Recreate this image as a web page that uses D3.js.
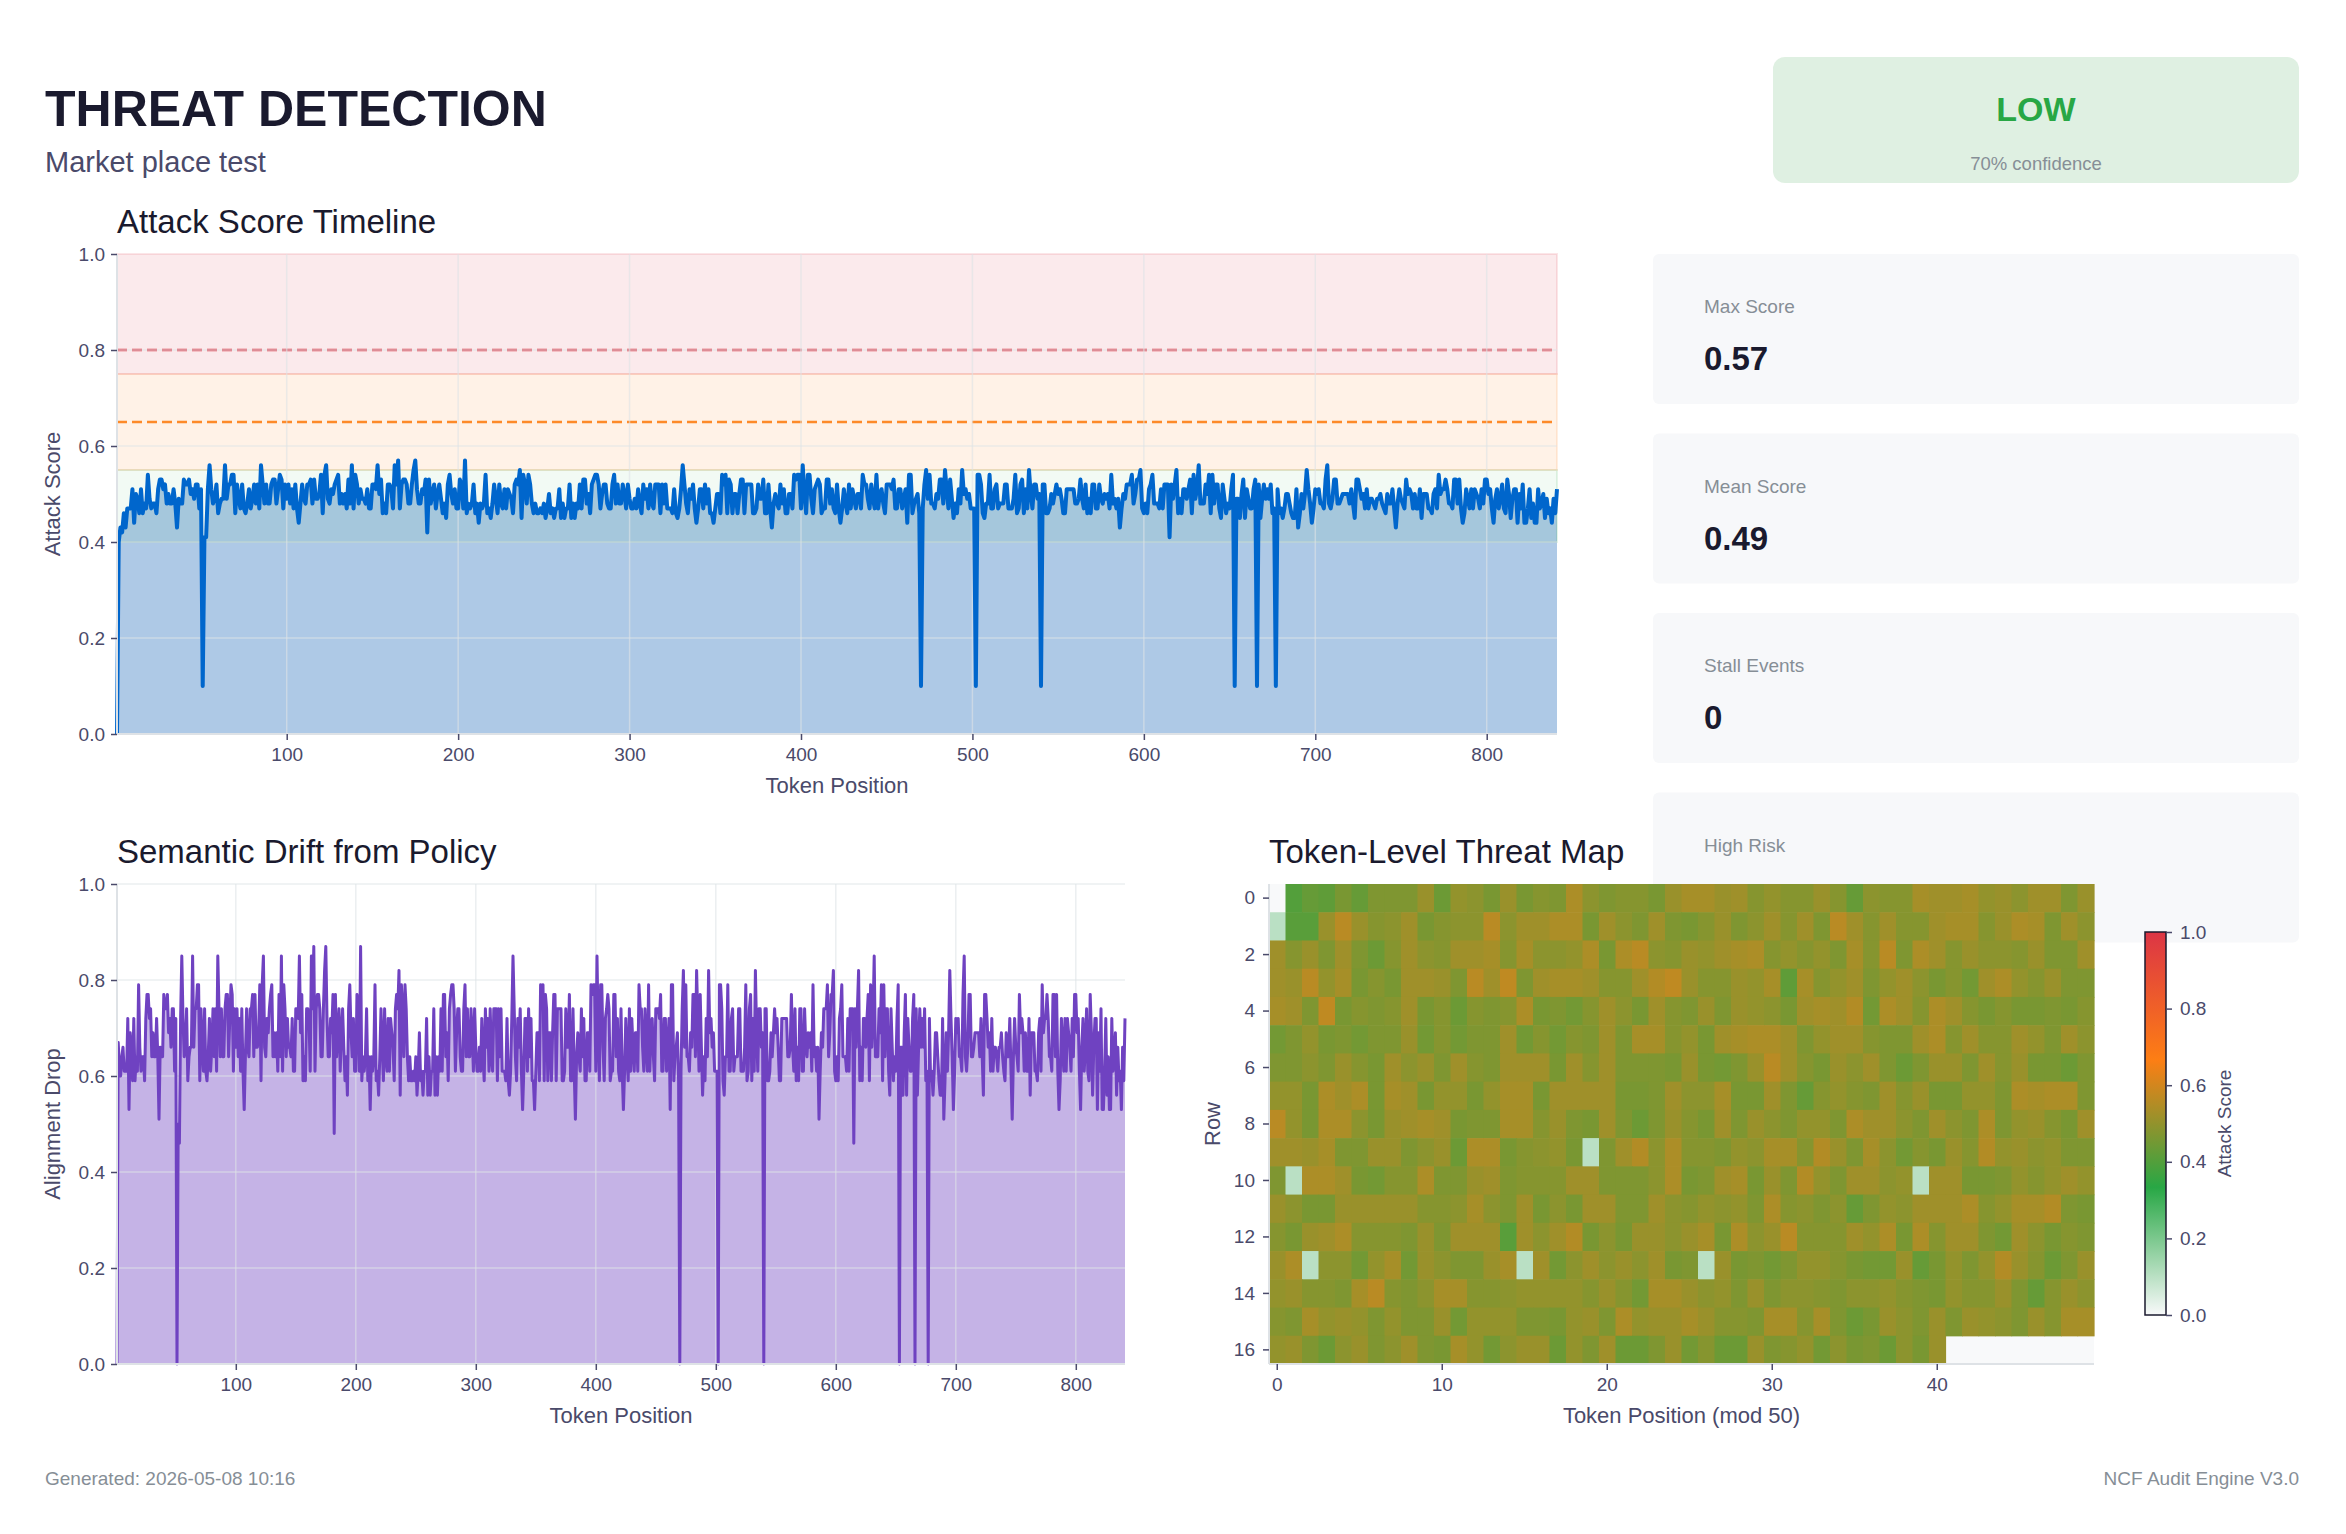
<!DOCTYPE html>
<html>
<head>
<meta charset="utf-8">
<script src="https://cdn.jsdelivr.net/npm/d3@7"></script>
<style>
  body { margin: 0; background: #fff; }
</style>
</head>
<body>
<div id="chart"></div>
<script>
// attack score per token (heatmap rows of 50 tokens)
var attackScores = [
  0.00,0.40,0.43,0.42,0.46,0.43,0.47,0.47,0.47,0.51,0.44,0.50,0.49,0.46,0.51,0.46,0.48,0.47,0.54,0.49,0.47,0.48,0.48,0.46,0.51,
  0.53,0.53,0.51,0.52,0.48,0.50,0.48,0.48,0.51,0.48,0.43,0.49,0.48,0.48,0.53,0.52,0.52,0.53,0.50,0.51,0.49,0.52,0.52,0.47,0.51,
  0.10,0.41,0.41,0.51,0.56,0.51,0.48,0.49,0.52,0.46,0.48,0.49,0.49,0.56,0.49,0.52,0.52,0.54,0.54,0.46,0.52,0.49,0.47,0.52,0.47,
  0.46,0.48,0.51,0.47,0.49,0.52,0.48,0.52,0.47,0.56,0.52,0.48,0.52,0.48,0.48,0.52,0.53,0.53,0.48,0.51,0.54,0.53,0.47,0.52,0.49,
  0.52,0.48,0.51,0.47,0.52,0.47,0.44,0.48,0.52,0.49,0.48,0.52,0.52,0.53,0.48,0.53,0.49,0.49,0.50,0.54,0.46,0.54,0.56,0.49,0.48,
  0.51,0.50,0.52,0.53,0.54,0.48,0.50,0.48,0.50,0.47,0.53,0.48,0.56,0.47,0.54,0.52,0.48,0.51,0.49,0.49,0.48,0.51,0.47,0.47,0.52,
  0.52,0.51,0.56,0.50,0.53,0.46,0.48,0.46,0.52,0.52,0.51,0.47,0.56,0.52,0.57,0.47,0.52,0.53,0.53,0.52,0.48,0.48,0.52,0.55,0.57,
  0.51,0.48,0.48,0.51,0.50,0.53,0.42,0.53,0.48,0.50,0.52,0.47,0.50,0.52,0.49,0.46,0.48,0.45,0.52,0.54,0.50,0.48,0.51,0.47,0.47,
  0.53,0.52,0.47,0.57,0.46,0.48,0.47,0.48,0.52,0.46,0.48,0.44,0.48,0.47,0.48,0.54,0.46,0.47,0.45,0.48,0.52,0.49,0.46,0.52,0.48,
  0.47,0.51,0.47,0.51,0.50,0.49,0.46,0.52,0.53,0.52,0.55,0.45,0.54,0.52,0.48,0.54,0.52,0.48,0.46,0.48,0.46,0.46,0.47,0.46,0.48,
  0.45,0.47,0.50,0.46,0.47,0.45,0.47,0.47,0.51,0.45,0.48,0.45,0.47,0.47,0.52,0.45,0.48,0.45,0.48,0.47,0.52,0.47,0.53,0.53,0.48,
  0.50,0.46,0.52,0.53,0.54,0.54,0.52,0.47,0.50,0.52,0.52,0.48,0.47,0.47,0.52,0.54,0.48,0.52,0.48,0.48,0.52,0.50,0.47,0.52,0.49,
  0.47,0.47,0.49,0.47,0.51,0.48,0.46,0.52,0.49,0.51,0.47,0.52,0.48,0.47,0.52,0.52,0.52,0.46,0.52,0.48,0.52,0.47,0.47,0.47,0.46,
  0.51,0.46,0.45,0.47,0.51,0.56,0.52,0.48,0.46,0.51,0.49,0.52,0.47,0.44,0.47,0.51,0.51,0.47,0.52,0.48,0.51,0.46,0.46,0.44,0.47,
  0.50,0.50,0.46,0.54,0.52,0.54,0.46,0.53,0.52,0.46,0.50,0.50,0.46,0.50,0.53,0.53,0.46,0.52,0.52,0.52,0.52,0.46,0.46,0.47,0.52,
  0.49,0.49,0.53,0.46,0.46,0.52,0.47,0.43,0.48,0.50,0.48,0.47,0.52,0.48,0.51,0.46,0.46,0.50,0.50,0.47,0.54,0.53,0.54,0.54,0.47,
  0.56,0.50,0.46,0.54,0.54,0.49,0.46,0.51,0.52,0.53,0.52,0.46,0.47,0.47,0.53,0.53,0.48,0.51,0.47,0.46,0.52,0.47,0.44,0.47,0.51,
  0.48,0.46,0.52,0.47,0.51,0.49,0.47,0.50,0.50,0.47,0.54,0.52,0.52,0.49,0.47,0.52,0.49,0.47,0.54,0.47,0.50,0.51,0.48,0.46,0.52,
  0.52,0.52,0.51,0.53,0.47,0.47,0.51,0.51,0.47,0.49,0.51,0.44,0.54,0.54,0.46,0.48,0.49,0.50,0.46,0.10,0.47,0.52,0.55,0.49,0.54,
  0.48,0.48,0.47,0.50,0.49,0.53,0.53,0.48,0.55,0.51,0.47,0.53,0.49,0.45,0.48,0.46,0.51,0.48,0.55,0.50,0.51,0.49,0.50,0.47,0.47,
  0.47,0.10,0.54,0.54,0.52,0.46,0.45,0.48,0.48,0.54,0.47,0.47,0.51,0.52,0.47,0.48,0.48,0.48,0.52,0.52,0.47,0.47,0.47,0.49,0.54,
  0.46,0.47,0.52,0.53,0.46,0.51,0.47,0.55,0.50,0.47,0.52,0.52,0.49,0.50,0.10,0.52,0.52,0.46,0.46,0.47,0.50,0.48,0.50,0.52,0.50,
  0.51,0.49,0.46,0.46,0.51,0.51,0.51,0.51,0.51,0.48,0.48,0.49,0.53,0.49,0.47,0.52,0.46,0.49,0.46,0.52,0.52,0.47,0.47,0.52,0.49,
  0.48,0.50,0.49,0.50,0.47,0.54,0.48,0.49,0.47,0.49,0.43,0.47,0.50,0.49,0.52,0.52,0.52,0.54,0.48,0.50,0.53,0.53,0.55,0.47,0.46,
  0.48,0.46,0.51,0.52,0.54,0.48,0.48,0.48,0.47,0.51,0.47,0.52,0.52,0.52,0.41,0.52,0.49,0.52,0.55,0.46,0.49,0.46,0.51,0.51,0.49,
  0.51,0.53,0.46,0.54,0.49,0.51,0.56,0.48,0.48,0.48,0.52,0.50,0.54,0.46,0.54,0.48,0.52,0.52,0.47,0.45,0.52,0.49,0.46,0.48,0.47,
  0.51,0.54,0.10,0.49,0.49,0.45,0.50,0.53,0.45,0.51,0.49,0.47,0.47,0.51,0.53,0.10,0.52,0.45,0.49,0.52,0.49,0.51,0.49,0.52,0.46,
  0.47,0.10,0.51,0.46,0.47,0.45,0.47,0.50,0.50,0.48,0.46,0.45,0.45,0.51,0.43,0.46,0.50,0.47,0.50,0.55,0.51,0.48,0.44,0.47,0.51,
  0.50,0.51,0.48,0.48,0.47,0.53,0.56,0.48,0.47,0.49,0.53,0.53,0.48,0.48,0.49,0.50,0.50,0.50,0.50,0.48,0.51,0.48,0.45,0.53,0.53,
  0.51,0.49,0.50,0.47,0.51,0.47,0.49,0.49,0.48,0.47,0.49,0.49,0.50,0.48,0.47,0.46,0.50,0.48,0.48,0.51,0.47,0.43,0.48,0.51,0.49,
  0.48,0.47,0.53,0.50,0.51,0.50,0.47,0.50,0.47,0.47,0.51,0.45,0.50,0.50,0.50,0.47,0.47,0.46,0.50,0.51,0.47,0.54,0.50,0.51,0.51,
  0.53,0.51,0.48,0.48,0.47,0.53,0.53,0.48,0.53,0.47,0.44,0.46,0.51,0.49,0.47,0.51,0.47,0.51,0.50,0.49,0.47,0.51,0.48,0.53,0.53,
  0.50,0.51,0.47,0.44,0.49,0.51,0.47,0.49,0.52,0.47,0.46,0.53,0.50,0.45,0.49,0.51,0.51,0.44,0.50,0.47,0.52,0.44,0.44,0.47,0.51,
  0.45,0.48,0.44,0.44,0.51,0.47,0.48,0.50,0.45,0.49,0.46,0.47,0.44,0.49,0.46,0.51
];

// alignment drop per token
var driftScores = [
  0,0.67,0.62,0.60,0.64,0.66,0.61,0.61,0.61,0.72,0.53,0.69,0.66,0.59,0.72,0.59,0.64,0.61,0.79,0.66,0.61,0.64,0.64,0.59,0.72,
  0.77,0.77,0.72,0.74,0.64,0.69,0.64,0.64,0.72,0.64,0.51,0.66,0.64,0.64,0.77,0.74,0.74,0.77,0.69,0.72,0.66,0.74,0.74,0.61,0.72,
  0,0.50,0.46,0.72,0.85,0.72,0.64,0.66,0.74,0.59,0.64,0.66,0.66,0.85,0.66,0.74,0.74,0.79,0.79,0.59,0.74,0.66,0.61,0.74,0.61,
  0.59,0.64,0.72,0.61,0.66,0.74,0.64,0.74,0.61,0.85,0.74,0.64,0.74,0.64,0.64,0.74,0.77,0.77,0.64,0.72,0.79,0.77,0.61,0.74,0.66,
  0.74,0.64,0.72,0.61,0.74,0.61,0.53,0.64,0.74,0.66,0.64,0.74,0.74,0.77,0.64,0.77,0.66,0.66,0.69,0.79,0.59,0.79,0.85,0.66,0.64,
  0.72,0.69,0.74,0.77,0.79,0.64,0.69,0.64,0.69,0.61,0.77,0.64,0.85,0.61,0.79,0.74,0.64,0.72,0.66,0.66,0.64,0.72,0.61,0.61,0.74,
  0.74,0.72,0.85,0.69,0.77,0.59,0.64,0.59,0.74,0.74,0.72,0.61,0.85,0.74,0.87,0.61,0.74,0.77,0.77,0.74,0.64,0.64,0.74,0.82,0.87,
  0.72,0.64,0.64,0.72,0.69,0.77,0.48,0.77,0.64,0.69,0.74,0.61,0.69,0.74,0.66,0.59,0.64,0.56,0.74,0.79,0.69,0.64,0.72,0.61,0.61,
  0.77,0.74,0.61,0.87,0.59,0.64,0.61,0.64,0.74,0.59,0.64,0.53,0.64,0.61,0.64,0.79,0.59,0.61,0.56,0.64,0.74,0.66,0.59,0.74,0.64,
  0.61,0.72,0.61,0.72,0.69,0.66,0.59,0.74,0.77,0.74,0.82,0.56,0.79,0.74,0.64,0.79,0.74,0.64,0.59,0.64,0.59,0.59,0.61,0.59,0.64,
  0.56,0.61,0.69,0.59,0.61,0.56,0.61,0.61,0.72,0.56,0.64,0.56,0.61,0.61,0.74,0.56,0.64,0.56,0.64,0.61,0.74,0.61,0.77,0.77,0.64,
  0.69,0.59,0.74,0.77,0.79,0.79,0.74,0.61,0.69,0.74,0.74,0.64,0.61,0.61,0.74,0.79,0.64,0.74,0.64,0.64,0.74,0.69,0.61,0.74,0.66,
  0.61,0.61,0.66,0.61,0.72,0.64,0.59,0.74,0.66,0.72,0.61,0.74,0.64,0.61,0.74,0.74,0.74,0.59,0.74,0.64,0.74,0.61,0.61,0.61,0.59,
  0.72,0.59,0.56,0.61,0.72,0.85,0.74,0.64,0.59,0.72,0.66,0.74,0.61,0.53,0.61,0.72,0.72,0.61,0.74,0.64,0.72,0.59,0.59,0.53,0.61,
  0.69,0.69,0.59,0.79,0.74,0.79,0.59,0.77,0.74,0.59,0.69,0.69,0.59,0.69,0.77,0.77,0.59,0.74,0.74,0.74,0.74,0.59,0.59,0.61,0.74,
  0.66,0.66,0.77,0.59,0.59,0.74,0.61,0.51,0.64,0.69,0.64,0.61,0.74,0.64,0.72,0.59,0.59,0.69,0.69,0.61,0.79,0.77,0.79,0.79,0.61,
  0.85,0.69,0.59,0.79,0.79,0.66,0.59,0.72,0.74,0.77,0.74,0.59,0.61,0.61,0.77,0.77,0.64,0.72,0.61,0.59,0.74,0.61,0.53,0.61,0.72,
  0.64,0.59,0.74,0.61,0.72,0.66,0.61,0.69,0.69,0.61,0.79,0.74,0.74,0.66,0.61,0.74,0.66,0.61,0.79,0.61,0.69,0.72,0.64,0.59,0.74,
  0.74,0.74,0.72,0.77,0.61,0.61,0.72,0.72,0.61,0.66,0.72,0.53,0.79,0.79,0.59,0.64,0.66,0.69,0.59,0,0.61,0.74,0.82,0.66,0.79,
  0.64,0.64,0.61,0.69,0.66,0.77,0.77,0.64,0.82,0.72,0.61,0.77,0.66,0.56,0.64,0.59,0.72,0.64,0.82,0.69,0.72,0.66,0.69,0.61,0.61,
  0.61,0,0.79,0.79,0.74,0.59,0.56,0.64,0.64,0.79,0.61,0.61,0.72,0.74,0.61,0.64,0.64,0.64,0.74,0.74,0.61,0.61,0.61,0.66,0.79,
  0.59,0.61,0.74,0.77,0.59,0.72,0.61,0.82,0.69,0.61,0.74,0.74,0.66,0.69,0,0.74,0.74,0.59,0.59,0.61,0.69,0.64,0.69,0.74,0.69,
  0.72,0.66,0.59,0.59,0.72,0.72,0.72,0.72,0.72,0.64,0.64,0.66,0.77,0.66,0.61,0.74,0.59,0.66,0.59,0.74,0.74,0.61,0.61,0.74,0.66,
  0.64,0.69,0.66,0.69,0.61,0.79,0.64,0.66,0.61,0.66,0.51,0.61,0.69,0.66,0.74,0.74,0.74,0.79,0.64,0.69,0.77,0.77,0.82,0.61,0.59,
  0.64,0.59,0.72,0.74,0.79,0.64,0.64,0.64,0.61,0.72,0.61,0.74,0.74,0.74,0.46,0.74,0.66,0.74,0.82,0.59,0.66,0.59,0.72,0.72,0.66,
  0.72,0.77,0.59,0.79,0.66,0.72,0.85,0.64,0.64,0.64,0.74,0.69,0.79,0.59,0.79,0.64,0.74,0.74,0.61,0.56,0.74,0.66,0.59,0.64,0.61,
  0.72,0.79,0,0.66,0.66,0.56,0.69,0.77,0.56,0.72,0.66,0.61,0.61,0.72,0.77,0,0.74,0.56,0.66,0.74,0.66,0.72,0.66,0.74,0.59,
  0.61,0,0.72,0.59,0.61,0.56,0.61,0.69,0.69,0.64,0.59,0.56,0.56,0.72,0.51,0.59,0.69,0.61,0.69,0.82,0.72,0.64,0.53,0.61,0.72,
  0.69,0.72,0.64,0.64,0.61,0.77,0.85,0.64,0.61,0.66,0.77,0.77,0.64,0.64,0.66,0.69,0.69,0.69,0.69,0.64,0.72,0.64,0.56,0.77,0.77,
  0.72,0.66,0.69,0.61,0.72,0.61,0.66,0.66,0.64,0.61,0.66,0.66,0.69,0.64,0.61,0.59,0.69,0.64,0.64,0.72,0.61,0.51,0.64,0.72,0.66,
  0.64,0.61,0.77,0.69,0.72,0.69,0.61,0.69,0.61,0.61,0.72,0.56,0.69,0.69,0.69,0.61,0.61,0.59,0.69,0.72,0.61,0.79,0.69,0.72,0.72,
  0.77,0.72,0.64,0.64,0.61,0.77,0.77,0.64,0.77,0.61,0.53,0.59,0.72,0.66,0.61,0.72,0.61,0.72,0.69,0.66,0.61,0.72,0.64,0.77,0.77,
  0.69,0.72,0.61,0.53,0.66,0.72,0.61,0.66,0.74,0.61,0.59,0.77,0.69,0.56,0.66,0.72,0.72,0.53,0.69,0.61,0.74,0.53,0.53,0.61,0.72,
  0.56,0.64,0.53,0.53,0.72,0.61,0.64,0.69,0.56,0.66,0.59,0.61,0.53,0.66,0.59,0.72
];

var zoneBounds = [0.40, 0.55, 0.75, 1.00];
var zoneColors = ['#28a745', '#fd7e14', '#dc3545'];
var zoneAlpha = [0.06, 0.1, 0.1];
var thresholdValues = [0.65, 0.80];
var thresholdColors = ['#fd7e14', '#dc3545'];

var scoreTicks = [0, 0.2, 0.4, 0.6, 0.8, 1.0];
var tokenTicks = [100, 200, 300, 400, 500, 600, 700, 800];
var rowTicks = [0, 2, 4, 6, 8, 10, 12, 14, 16];
var colTicks = [0, 10, 20, 30, 40];

var metricLabels = ['Max Score', 'Mean Score', 'Stall Events', 'High Risk'];
var metricValues = ['0.57', '0.49', '0', '0'];

var riskLabel = 'LOW';
var riskConfidence = '70% confidence';

var cmapStops = [0, 1/3, 2/3, 1];
var cmapColors = ['#f8f9fa', '#28a745', '#fd7e14', '#dc3545'];

var FONT = '"Liberation Sans", Arial, Helvetica, sans-serif';
var W = 2346, H = 1534;
var INK = '#1a1a2e', SUB = '#4a4a6a', MUTED = '#868e96', SPINE = '#dee2e6';

var svg = d3.select('#chart').append('svg')
  .attr('width', W).attr('height', H)
  .style('font-family', FONT);
svg.append('rect').attr('width', W).attr('height', H).attr('fill', '#fff');

var styleAxis = function(g){
  g.select('.domain').remove();
  g.attr('font-family', FONT).attr('font-size', 19);
  g.selectAll('.tick line').attr('stroke', SUB).attr('stroke-width', 1.5);
  g.selectAll('.tick text').attr('fill', SUB);
};

var addText = function(x, y, str, size, color, weight, anchor){
  return svg.append('text').attr('x', x).attr('y', y).text(str)
    .attr('font-size', size).attr('fill', color)
    .attr('font-weight', weight || 'normal')
    .attr('text-anchor', anchor || 'start');
};

var addRotLabel = function(x, y, str, size){
  svg.append('text').attr('transform', 'translate(' + x + ',' + y + ') rotate(-90)')
    .attr('text-anchor', 'middle').attr('dy', '0.35em')
    .attr('font-size', size).attr('fill', SUB).text(str);
};

// header
addText(45, 126, 'THREAT DETECTION', 50, INK, 'bold');
addText(45, 172, 'Market place test', 29, SUB);

svg.append('rect').attr('x', 1773).attr('y', 57).attr('width', 526).attr('height', 126)
  .attr('rx', 12).attr('fill', '#dff0e2');
addText(2036, 121, riskLabel, 34, '#28a745', 'bold', 'middle');
addText(2036, 170, riskConfidence, 18.5, MUTED, 'normal', 'middle');

// metric cards
metricLabels.forEach(function(lbl, k){
  var top = 254 + k * 179.5;
  svg.append('rect').attr('x', 1653).attr('y', top).attr('width', 646).attr('height', 150)
    .attr('rx', 6).attr('fill', '#f7f8fa');
  addText(1704, top + 59, lbl, 19, MUTED);
  addText(1704, top + 116, metricValues[k], 33, INK, 'bold');
});

// ---------- attack score timeline ----------
var tl = {left: 117, right: 1557, top: 254, bottom: 734};
var xT = d3.scaleLinear().domain([1, attackScores.length]).range([tl.left, tl.right]);
var yT = d3.scaleLinear().domain([0, 1]).range([tl.bottom, tl.top]);
var gT = svg.append('g');

var areaT = d3.area()
  .x(function(d, i){ return xT(i + 1); })
  .y0(yT(0))
  .y1(function(d){ return yT(d); });
gT.append('path').datum(attackScores).attr('d', areaT)
  .attr('fill', '#0a5cb4').attr('fill-opacity', 0.33);

zoneColors.forEach(function(c, z){
  gT.append('rect')
    .attr('x', tl.left).attr('width', tl.right - tl.left)
    .attr('y', yT(zoneBounds[z + 1])).attr('height', yT(zoneBounds[z]) - yT(zoneBounds[z + 1]))
    .attr('fill', c).attr('fill-opacity', zoneAlpha[z])
    .attr('stroke', c).attr('stroke-opacity', 0.12).attr('stroke-width', 2);
});

thresholdValues.forEach(function(v, k){
  gT.append('line').attr('x1', tl.left).attr('x2', tl.right)
    .attr('y1', yT(v)).attr('y2', yT(v))
    .attr('stroke', thresholdColors[k]).attr('stroke-opacity', 0.9)
    .attr('stroke-width', 2.5).attr('stroke-dasharray', '10,5');
});

var gridT = gT.append('g').attr('stroke', SPINE).attr('stroke-opacity', 0.6).attr('stroke-width', 1.5);
tokenTicks.forEach(function(t){
  gridT.append('line').attr('x1', xT(t)).attr('x2', xT(t)).attr('y1', tl.top).attr('y2', tl.bottom);
});
scoreTicks.slice(1, -1).forEach(function(t){
  gridT.append('line').attr('x1', tl.left).attr('x2', tl.right).attr('y1', yT(t)).attr('y2', yT(t));
});

var lineT = d3.line()
  .x(function(d, i){ return xT(i + 1); })
  .y(function(d){ return yT(d); });
gT.append('path').datum(attackScores).attr('d', lineT)
  .attr('fill', 'none').attr('stroke', '#0066cc').attr('stroke-width', 4)
  .attr('stroke-linejoin', 'round');

gT.append('line').attr('x1', tl.left).attr('x2', tl.right).attr('y1', tl.bottom).attr('y2', tl.bottom)
  .attr('stroke', SPINE).attr('stroke-width', 2);
gT.append('line').attr('x1', tl.left).attr('x2', tl.left).attr('y1', tl.top).attr('y2', tl.bottom)
  .attr('stroke', SPINE).attr('stroke-width', 2);

gT.append('g').attr('transform', 'translate(' + tl.left + ',0)')
  .call(d3.axisLeft(yT).tickValues(scoreTicks).tickFormat(d3.format('.1f')).tickSize(6).tickPadding(6).tickSizeOuter(0))
  .call(styleAxis);
gT.append('g').attr('transform', 'translate(0,' + tl.bottom + ')')
  .call(d3.axisBottom(xT).tickValues(tokenTicks).tickSize(6).tickPadding(8).tickSizeOuter(0))
  .call(styleAxis);

addText(tl.left, 233, 'Attack Score Timeline', 33, INK);
addText((tl.left + tl.right) / 2, 793, 'Token Position', 22, SUB, 'normal', 'middle');
addRotLabel(52, (tl.top + tl.bottom) / 2, 'Attack Score', 22);

// ---------- semantic drift ----------
var dr = {left: 117, right: 1125, top: 884, bottom: 1364};
var xD = d3.scaleLinear().domain([1, driftScores.length]).range([dr.left, dr.right]);
var yD = d3.scaleLinear().domain([0, 1]).range([dr.bottom, dr.top]);
var gD = svg.append('g');

var areaD = d3.area()
  .x(function(d, i){ return xD(i + 1); })
  .y0(yD(0))
  .y1(function(d){ return yD(d); });
gD.append('path').datum(driftScores).attr('d', areaD)
  .attr('fill', '#6f42c1').attr('fill-opacity', 0.4);

var gridD = gD.append('g').attr('stroke', SPINE).attr('stroke-opacity', 0.6).attr('stroke-width', 1.5);
tokenTicks.forEach(function(t){
  gridD.append('line').attr('x1', xD(t)).attr('x2', xD(t)).attr('y1', dr.top).attr('y2', dr.bottom);
});
scoreTicks.slice(1).forEach(function(t){
  gridD.append('line').attr('x1', dr.left).attr('x2', dr.right).attr('y1', yD(t)).attr('y2', yD(t));
});

var lineD = d3.line()
  .x(function(d, i){ return xD(i + 1); })
  .y(function(d){ return yD(d); });
gD.append('path').datum(driftScores).attr('d', lineD)
  .attr('fill', 'none').attr('stroke', '#6f42c1').attr('stroke-width', 3)
  .attr('stroke-linejoin', 'round');

gD.append('line').attr('x1', dr.left).attr('x2', dr.right).attr('y1', dr.bottom).attr('y2', dr.bottom)
  .attr('stroke', SPINE).attr('stroke-width', 2);
gD.append('line').attr('x1', dr.left).attr('x2', dr.left).attr('y1', dr.top).attr('y2', dr.bottom)
  .attr('stroke', SPINE).attr('stroke-width', 2);

gD.append('g').attr('transform', 'translate(' + dr.left + ',0)')
  .call(d3.axisLeft(yD).tickValues(scoreTicks).tickFormat(d3.format('.1f')).tickSize(6).tickPadding(6).tickSizeOuter(0))
  .call(styleAxis);
gD.append('g').attr('transform', 'translate(0,' + dr.bottom + ')')
  .call(d3.axisBottom(xD).tickValues(tokenTicks).tickSize(6).tickPadding(8).tickSizeOuter(0))
  .call(styleAxis);

addText(dr.left, 863, 'Semantic Drift from Policy', 33, INK);
addText((dr.left + dr.right) / 2, 1423, 'Token Position', 22, SUB, 'normal', 'middle');
addRotLabel(52, (dr.top + dr.bottom) / 2, 'Alignment Drop', 22);

// ---------- token-level heatmap ----------
var hm = {left: 1269, right: 2094, top: 884, bottom: 1364};
var nCols = 50;
var nRows = Math.ceil(attackScores.length / nCols);
var xH = d3.scaleBand().domain(d3.range(nCols)).range([hm.left, hm.right]);
var yH = d3.scaleBand().domain(d3.range(nRows)).range([hm.top, hm.bottom]);
var cmap = d3.scaleLinear().domain(cmapStops).range(cmapColors).clamp(true);
var gH = svg.append('g');

gH.append('rect').attr('x', hm.left).attr('y', hm.top)
  .attr('width', hm.right - hm.left).attr('height', hm.bottom - hm.top).attr('fill', '#f8f9fa');

gH.selectAll('rect.cell').data(attackScores).enter().append('rect')
  .attr('class', 'cell')
  .attr('x', function(d, i){ return xH(i % nCols); })
  .attr('y', function(d, i){ return yH(Math.floor(i / nCols)); })
  .attr('width', xH.bandwidth() + 0.6)
  .attr('height', yH.bandwidth() + 0.6)
  .attr('fill', function(d){ return cmap(d); });

gH.append('line').attr('x1', hm.left).attr('x2', hm.right).attr('y1', hm.bottom).attr('y2', hm.bottom)
  .attr('stroke', SPINE).attr('stroke-width', 2);
gH.append('line').attr('x1', hm.left).attr('x2', hm.left).attr('y1', hm.top).attr('y2', hm.bottom)
  .attr('stroke', SPINE).attr('stroke-width', 2);

gH.append('g').attr('transform', 'translate(' + hm.left + ',0)')
  .call(d3.axisLeft(yH).tickValues(rowTicks).tickSize(6).tickPadding(8).tickSizeOuter(0))
  .call(styleAxis);
gH.append('g').attr('transform', 'translate(0,' + hm.bottom + ')')
  .call(d3.axisBottom(xH).tickValues(colTicks).tickSize(6).tickPadding(8).tickSizeOuter(0))
  .call(styleAxis);

addText(hm.left, 863, 'Token-Level Threat Map', 33, INK);
addText((hm.left + hm.right) / 2, 1423, 'Token Position (mod 50)', 22, SUB, 'normal', 'middle');
addRotLabel(1212, (hm.top + hm.bottom) / 2, 'Row', 22);

// colorbar
var cb = {left: 2145, right: 2166, top: 932, bottom: 1315};
var yC = d3.scaleLinear().domain([0, 1]).range([cb.bottom, cb.top]);
var grad = svg.append('defs').append('linearGradient').attr('id', 'cbGrad')
  .attr('x1', 0).attr('y1', 1).attr('x2', 0).attr('y2', 0);
cmapStops.forEach(function(s, k){
  grad.append('stop').attr('offset', s).attr('stop-color', cmapColors[k]);
});
svg.append('rect').attr('x', cb.left).attr('y', cb.top)
  .attr('width', cb.right - cb.left).attr('height', cb.bottom - cb.top)
  .attr('fill', 'url(#cbGrad)').attr('stroke', INK).attr('stroke-width', 1.5);
svg.append('g').attr('transform', 'translate(' + cb.right + ',0)')
  .call(d3.axisRight(yC).tickValues(scoreTicks).tickFormat(d3.format('.1f')).tickSize(6).tickPadding(8).tickSizeOuter(0))
  .call(styleAxis);
addRotLabel(2224, (cb.top + cb.bottom) / 2, 'Attack Score', 19);

// footer
addText(45, 1485, 'Generated: 2026-05-08 10:16', 19, MUTED);
addText(2299, 1485, 'NCF Audit Engine V3.0', 19, MUTED, 'normal', 'end');
</script>
</body>
</html>
